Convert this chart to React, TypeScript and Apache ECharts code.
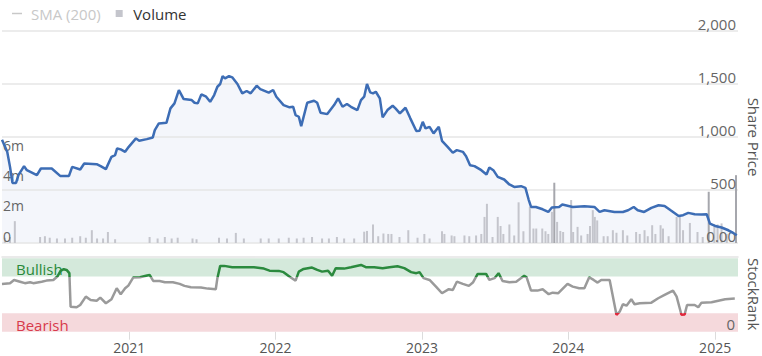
import React, { useEffect, useRef } from "react";
import * as echarts from "echarts";

// ---- Data ----
const priceDates = [
  "2020-02-19","2020-03-03","2020-03-10","2020-03-16","2020-03-25","2020-03-31","2020-04-14","2020-04-21","2020-05-16","2020-05-26",
  "2020-06-22","2020-07-13","2020-08-04","2020-08-12","2020-09-01","2020-09-11","2020-10-12","2020-10-22","2020-11-04","2020-11-18",
  "2020-11-27","2020-12-02","2020-12-11","2020-12-22","2020-12-31","2021-01-18","2021-01-26","2021-02-14","2021-03-01","2021-03-06",
  "2021-03-16","2021-04-04","2021-04-14","2021-04-24","2021-05-05","2021-05-17","2021-06-06","2021-06-13","2021-06-21","2021-06-30",
  "2021-07-12","2021-07-22","2021-08-01","2021-08-09","2021-08-16","2021-08-22","2021-08-28","2021-09-07","2021-09-15","2021-09-28",
  "2021-10-10","2021-10-21","2021-10-31","2021-11-15","2021-11-24","2021-12-15","2021-12-26","2022-01-03","2022-01-21","2022-02-05",
  "2022-02-14","2022-02-20","2022-02-28","2022-03-06","2022-03-21","2022-04-07","2022-04-15","2022-04-23","2022-05-10","2022-05-27",
  "2022-06-06","2022-06-17","2022-06-28","2022-07-08","2022-07-24","2022-08-02","2022-08-10","2022-08-17","2022-08-25","2022-09-01",
  "2022-09-08","2022-09-18","2022-09-25","2022-10-07","2022-10-20","2022-10-27","2022-11-07","2022-11-21","2022-12-03","2022-12-18",
  "2022-12-26","2023-01-03","2023-01-10","2023-01-20","2023-01-30","2023-02-12","2023-02-20","2023-03-06","2023-03-19","2023-03-29",
  "2023-04-13","2023-04-21","2023-05-01","2023-05-12","2023-05-29","2023-06-11","2023-06-18","2023-06-28","2023-07-09","2023-07-25",
  "2023-08-07","2023-08-19","2023-09-05","2023-09-16","2023-09-24","2023-09-30","2023-10-12","2023-10-29","2023-11-12","2023-11-21",
  "2023-12-09","2023-12-17","2024-01-12","2024-02-10","2024-03-06","2024-03-19","2024-03-31","2024-04-25","2024-05-16","2024-05-29",
  "2024-06-12","2024-06-22","2024-07-08","2024-07-26","2024-08-13","2024-08-28","2024-09-12","2024-10-02","2024-10-13","2024-10-26",
  "2024-11-11","2024-11-28","2024-12-11","2024-12-19","2025-01-01","2025-01-17","2025-02-03","2025-02-15","2025-02-24",
];
const priceValues = [
  975,860,718,567,567,640,725,687,640,703,
  703,633,633,718,694,750,744,725,697,813,
  829,892,883,860,907,987,964,980,996,1065,
  1128,1134,1270,1317,1443,1358,1348,1323,1317,1402,
  1380,1332,1396,1474,1500,1575,1553,1575,1563,1500,
  1412,1434,1412,1484,1452,1418,1443,1380,1301,1280,
  1285,1207,1191,1103,1323,1342,1323,1229,1216,1301,
  1365,1285,1311,1285,1254,1348,1380,1500,1421,1412,
  1427,1365,1185,1254,1295,1270,1223,1276,1176,1056,
  1058,1143,1081,1096,1034,1096,964,907,851,876,
  860,819,734,725,687,646,712,687,624,599,
  552,529,536,520,410,340,340,318,293,335,
  340,363,340,347,340,293,309,293,293,309,
  340,309,293,331,356,350,309,255,262,284,
  271,268,271,183,161,146,120,95,73,
];

const rankDates = [
  "2020-02-19","2020-03-10","2020-03-20","2020-04-04","2020-04-16","2020-04-29","2020-05-07","2020-05-28","2020-06-09","2020-06-26",
  "2020-07-06","2020-07-14","2020-07-22","2020-07-29","2020-08-05","2020-08-08","2020-08-23","2020-09-01","2020-09-15","2020-09-27",
  "2020-10-12","2020-10-21","2020-11-04","2020-11-18","2020-12-01","2020-12-11","2020-12-22","2020-12-30","2021-01-11","2021-01-28",
  "2021-02-12","2021-02-21","2021-03-02","2021-03-18","2021-03-31","2021-04-20","2021-05-07","2021-05-19","2021-06-04","2021-06-29",
  "2021-07-16","2021-08-05","2021-08-09","2021-08-16","2021-08-26","2021-09-15","2021-10-14","2021-11-08","2021-12-03","2021-12-17",
  "2022-01-09","2022-01-21","2022-02-07","2022-02-20","2022-02-28","2022-03-12","2022-04-02","2022-04-15","2022-04-27","2022-05-12",
  "2022-05-22","2022-05-31","2022-06-21","2022-07-08","2022-08-02","2022-08-14","2022-09-04","2022-09-25","2022-10-12","2022-11-01",
  "2022-11-18","2022-12-05","2022-12-18","2022-12-26","2023-01-05","2023-01-20","2023-02-05","2023-02-20","2023-03-09","2023-03-19",
  "2023-03-29","2023-04-13","2023-04-28","2023-05-08","2023-05-20","2023-06-10","2023-06-18","2023-07-01","2023-07-11","2023-07-21",
  "2023-08-07","2023-08-24","2023-09-13","2023-09-19","2023-09-30","2023-10-16","2023-10-29","2023-11-13","2023-11-23","2023-12-07",
  "2023-12-30","2024-01-12","2024-01-28","2024-02-10","2024-02-22","2024-03-04","2024-03-14","2024-03-23","2024-04-13","2024-04-30",
  "2024-05-08","2024-05-16","2024-05-25","2024-06-06","2024-06-14","2024-06-27","2024-07-26","2024-08-12","2024-08-28","2024-09-18",
  "2024-09-27","2024-10-09","2024-10-17","2024-10-23","2024-11-11","2024-11-20","2024-11-28","2024-12-23","2025-01-09","2025-01-26",
  "2025-02-19",
];
const rankValues = [
  65,66,70.4,68,66,67.3,66,68,69.5,70.4,
  75,82.7,85,84,79.6,34,33.2,36.4,47.7,43.2,
  42.2,46.3,38.7,44.1,59,51,59,62.7,73.6,74,
  76,77.2,69,69,67.3,67.3,65,62.3,60.5,60,
  58.6,57.8,72.8,89.5,89.5,87.7,87.7,87.7,85.8,83,
  82.7,81,74,69.5,81.7,85.4,87.2,84,81.7,83,
  76,86.4,85.8,87.7,90.8,87.7,87.7,86.4,87.7,89,
  86.4,81,79.6,81,72.8,70.4,61.3,52.3,57.8,56.8,
  68,65,62.3,66.8,78.6,78.6,70.4,72.8,79.6,69,
  67.3,68,76,74,55.9,55.9,57.8,51,53.1,52.3,
  65,61.3,59.1,59.1,74,70.4,66.8,70.4,70.4,23,
  27.2,37.3,35.4,44.1,37.3,38.7,39.5,45.5,50,55.9,
  47.7,23,23.5,36.4,36.4,33.2,39.5,40,42.2,44.1,
  45,
];

const volumeDates = [
  "2020-02-26","2020-03-10","2020-03-22","2020-05-24","2020-06-05","2020-06-17","2020-07-05","2020-07-25","2020-08-12","2020-09-01",
  "2020-09-15","2020-09-30","2020-10-13","2020-10-28","2020-11-09","2020-11-27","2021-02-21","2021-03-13","2021-03-31","2021-04-17",
  "2021-05-02","2021-06-08","2021-06-18","2021-08-13","2021-09-02","2021-09-24","2021-10-14","2021-11-25","2021-12-15","2022-01-09",
  "2022-02-03","2022-02-23","2022-03-12","2022-04-02","2022-04-27","2022-05-14","2022-06-03","2022-06-21","2022-07-16","2022-08-10",
  "2022-08-17","2022-09-01","2022-09-14","2022-09-27","2022-10-09","2022-10-17","2022-11-06","2022-11-28","2022-12-21","2023-01-07",
  "2023-01-20","2023-02-20","2023-02-26","2023-03-16","2023-03-23","2023-04-17","2023-04-29","2023-05-16","2023-05-29","2023-06-06",
  "2023-06-12","2023-06-26","2023-07-09","2023-07-16","2023-07-23","2023-08-07","2023-08-19","2023-08-30","2023-09-11","2023-09-27",
  "2023-10-06","2023-10-13","2023-10-28","2023-11-05","2023-11-12","2023-11-21","2023-11-27","2023-12-04","2023-12-12","2023-12-19",
  "2024-01-08","2024-01-13","2024-01-24","2024-02-02","2024-02-18","2024-02-24","2024-03-02","2024-03-07","2024-03-13","2024-03-29",
  "2024-04-08","2024-04-21","2024-04-30","2024-05-16","2024-05-27","2024-06-18","2024-06-27","2024-07-09","2024-07-17","2024-07-28",
  "2024-08-05","2024-08-18","2024-08-24","2024-09-07","2024-09-27","2024-10-05","2024-10-13","2024-10-30","2024-11-18","2024-12-01",
  "2024-12-16","2024-12-30","2025-01-07","2025-01-17","2025-01-30","2025-02-22",
];
// millions of shares
const volumeValues = [
  0.35,0.4,1.45,0.4,0.45,0.35,0.3,0.3,0.35,0.45,
  0.35,0.85,0.3,0.3,0.73,0.25,0.4,0.3,0.4,0.3,
  0.35,0.3,0.25,0.35,0.3,0.67,0.3,0.3,0.3,0.3,
  0.35,0.3,0.35,0.4,0.3,0.3,0.4,0.3,0.3,0.75,
  0.8,1.23,0.45,0.63,0.6,0.6,0.4,0.85,0.35,0.6,
  0.3,0.78,0.6,0.5,0.45,0.5,0.45,0.5,0.6,1.73,
  2.6,0.4,1.73,1.13,0.6,1.23,0.5,2.7,0.78,2.4,
  0.96,0.96,0.96,0.78,0.6,2.07,4.0,1.4,0.8,0.73,
  2.85,0.73,1.07,0.5,0.6,1.13,2.18,1.73,1.5,0.45,
  0.45,0.85,0.68,0.85,0.5,0.73,0.6,0.85,0.45,1.18,
  0.6,1.18,0.96,0.45,1.73,1.73,0.85,1.33,0.73,0.4,
  3.4,1.23,1.23,1.3,0.6,4.5,
];

const yearTicks = ["2021-01-01", "2022-01-01", "2023-01-01", "2024-01-01", "2025-01-01"];
const axisStart = "2020-02-19";
const axisEnd = "2025-02-27";

const FONT = "Open Sans";

function toTs(s: string): number {
  const [y, m, d] = s.split("-").map(Number);
  return new Date(y, m - 1, d).getTime();
}

export default function App() {
  const ref = useRef<HTMLDivElement>(null);

  useEffect(() => {
    if (!ref.current) return;
    const chart = echarts.init(ref.current, null, { renderer: "svg" });

    const priceData = priceDates.map((d, i) => [toTs(d), priceValues[i]]);
    const rankData = rankDates.map((d, i) => [toTs(d), rankValues[i]]);
    const volumeData = volumeDates.map((d, i) => [toTs(d), volumeValues[i]]);
    const yearTs = yearTicks.map(toTs);
    const xMin = toTs(axisStart);
    const xMax = toTs(axisEnd);

    const gridL = 2;
    const gridR = 24;

    const hiddenX = (gridIndex: number) => ({
      type: "value",
      gridIndex,
      min: xMin,
      max: xMax,
      show: false,
      splitLine: { show: false },
    });

    const option: any = {
      animation: false,
      textStyle: { fontFamily: FONT },
      legend: {
        left: 12,
        top: 6,
        padding: 0,
        itemWidth: 10,
        itemHeight: 7,
        itemGap: 15,
        textStyle: { fontSize: 15, color: "#333", fontFamily: FONT, padding: [0, 0, 0, 4] },
        inactiveColor: "#c8c8c8",
        selected: { "SMA (200)": false },
        data: [
          { name: "SMA (200)", icon: "path://M0,0h10v1.5h-10z" },
          { name: "Volume", icon: "path://M0,0h8v8h-8z" },
        ],
      },
      grid: [
        { left: gridL, right: gridR, top: 31, height: 212, outerBoundsMode: "none", containLabel: false },
        { left: gridL, right: gridR, top: 137.5, height: 105.5, outerBoundsMode: "none", containLabel: false },
        { left: gridL, right: gridR, top: 256.7, height: 75, outerBoundsMode: "none", containLabel: false },
      ],
      xAxis: [
        hiddenX(0),
        hiddenX(1),
        {
          type: "value",
          gridIndex: 2,
          min: xMin,
          max: xMax,
          axisLine: { show: false },
          splitLine: { show: false },
          axisTick: {
            show: true,
            length: 8,
            lineStyle: { color: "#dcdcdc", width: 1 },
            customValues: yearTs,
          },
          axisLabel: {
            customValues: yearTs,
            formatter: (v: number) => String(new Date(v).getFullYear()),
            fontSize: 14,
            color: "#555",
            margin: 9,
            fontFamily: FONT,
          },
        },
        {
          type: "value",
          gridIndex: 2,
          min: xMin,
          max: xMax,
          position: "top",
          axisLine: { show: true, lineStyle: { color: "#e4e4e4", width: 1.5 } },
          axisTick: { show: false },
          axisLabel: { show: false },
          splitLine: { show: false },
        },
      ],
      yAxis: [
        {
          type: "value",
          gridIndex: 0,
          position: "right",
          z: 2,
          min: 0,
          max: 2000,
          interval: 500,
          name: "Share Price",
          nameLocation: "middle",
          nameRotate: -90,
          nameGap: 6,
          nameTextStyle: { fontSize: 15, lineHeight: 14, color: "#555", fontFamily: FONT },
          axisLine: { show: false },
          axisTick: { show: false },
          axisLabel: {
            inside: true,
            verticalAlign: "bottom",
            margin: 2,
            fontSize: 15,
            color: "#666",
            fontFamily: FONT,
            formatter: (v: number) => (v === 0 ? "0.00" : v.toLocaleString("en-US")),
          },
          splitLine: { show: true, lineStyle: { color: "#e6e6e6", width: 1.5 } },
        },
        {
          type: "value",
          gridIndex: 1,
          position: "left",
          z: 2,
          min: 0,
          max: 7,
          interval: 2,
          axisLine: { show: false },
          axisTick: { show: false },
          splitLine: { show: false },
          axisLabel: {
            inside: true,
            verticalAlign: "bottom",
            margin: 1,
            fontSize: 14,
            color: "#666",
            fontFamily: FONT,
            formatter: (v: number) => (v === 0 ? "0" : v > 6 ? "" : v + "m"),
          },
        },
        {
          type: "value",
          gridIndex: 2,
          position: "right",
          z: 5,
          min: 0,
          max: 102,
          interval: 102,
          name: "StockRank",
          nameLocation: "middle",
          nameRotate: -90,
          nameGap: 6,
          nameTextStyle: { fontSize: 15, lineHeight: 14, color: "#555", fontFamily: FONT },
          axisLine: { show: false },
          axisTick: { show: false },
          splitLine: { show: false },
          axisLabel: {
            inside: true,
            verticalAlign: "bottom",
            margin: 3,
            fontSize: 15,
            color: "#666",
            fontFamily: FONT,
            formatter: (v: number) => (v === 0 ? "0" : ""),
          },
        },
      ],
      visualMap: {
        show: false,
        type: "piecewise",
        seriesIndex: 4,
        dimension: 1,
        pieces: [
          { lte: 25, color: "#e0283c" },
          { gt: 25, lte: 75, color: "#9a9a9a" },
          { gt: 75, color: "#2b8a3e" },
        ],
      },
      series: [
        {
          name: "SMA (200)",
          type: "line",
          xAxisIndex: 0,
          yAxisIndex: 0,
          symbol: "none",
          color: "#9ab",
          lineStyle: { width: 1.5 },
          data: [],
        },
        {
          name: "PriceArea",
          type: "line",
          xAxisIndex: 0,
          yAxisIndex: 0,
          symbol: "none",
          silent: true,
          z: 1,
          lineStyle: { width: 0 },
          areaStyle: { color: "#f4f6fb", opacity: 1 },
          data: priceData,
        },
        {
          name: "Volume",
          type: "bar",
          xAxisIndex: 1,
          yAxisIndex: 1,
          barWidth: 2,
          z: 2,
          color: "#c4c5cc",
          itemStyle: {
            color: (p: any) => (p.value[1] > 3 ? "#a6a7ad" : "#c4c5cc"),
          },
          data: volumeData,
        },
        {
          name: "Share Price",
          type: "line",
          xAxisIndex: 0,
          yAxisIndex: 0,
          symbol: "none",
          z: 3,
          color: "#3d6db5",
          lineStyle: { width: 2.5, color: "#3d6db5" },
          data: priceData,
        },
        {
          name: "StockRank",
          type: "line",
          xAxisIndex: 2,
          yAxisIndex: 2,
          symbol: "none",
          z: 3,
          lineStyle: { width: 2.5 },
          data: rankData,
          markArea: {
            silent: true,
            label: {
              position: "insideLeft",
              fontSize: 15,
              fontFamily: FONT,
              offset: [9, 2],
            },
            data: [
              [
                {
                  name: "Bullish",
                  yAxis: 75,
                  itemStyle: { color: "#d4e9db" },
                  label: { color: "#2a8a3a" },
                },
                { yAxis: 100 },
              ],
              [
                {
                  name: "Bearish",
                  yAxis: 0,
                  itemStyle: { color: "#f5d9dc" },
                  label: { color: "#d83a4b" },
                },
                { yAxis: 25 },
              ],
            ],
          },
        },
      ],
    };

    chart.setOption(option);
    return () => chart.dispose();
  }, []);

  return (
    <div
      ref={ref}
      style={{ position: "absolute", left: 0, top: 0, width: 762, height: 356 }}
    />
  );
}
